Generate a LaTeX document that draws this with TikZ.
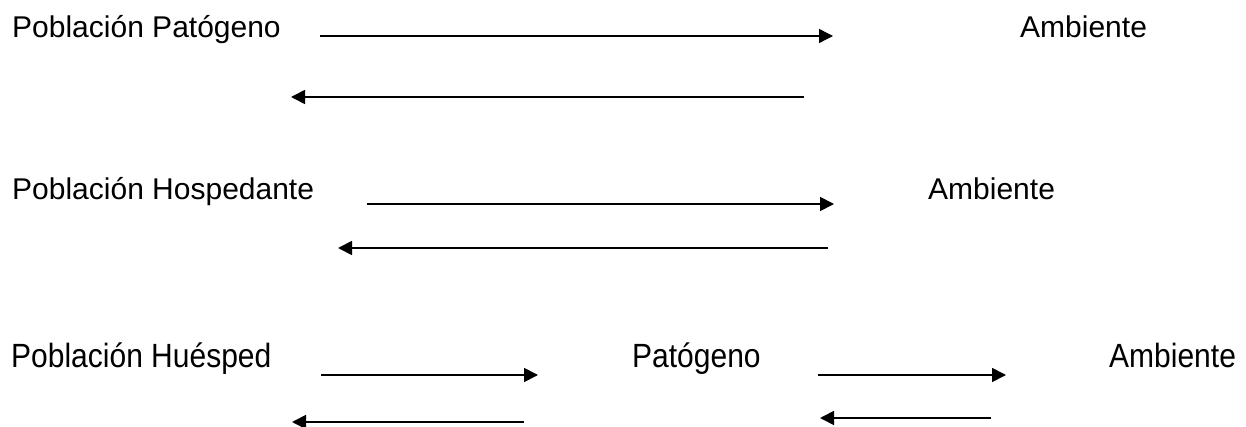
\documentclass[tikz,border=0pt]{standalone}
\usepackage{fontspec}
\setmainfont{Liberation Sans}
\usetikzlibrary{arrows.meta}
\begin{document}
\begin{tikzpicture}[x=1pt,y=-1pt,
  lbl/.style={anchor=base west,inner sep=0pt,font=\fontsize{30}{36}\selectfont},
  lbltall/.style={lbl,yscale=1.12},
  flow/.style={line width=1.7pt,-{Triangle[length=14pt,width=14pt]}}]
\useasboundingbox (0,0) rectangle (1246,427);
% row 1
\node[lbl] (pp) at (12,38) {Población Patógeno};
\node[lbl] (a1) at (1020,38) {Ambiente};
\coordinate (r1s) at (320,36);
\coordinate (r1e) at (833,36);
\coordinate (l1s) at (804,97);
\coordinate (l1e) at (291,97);
\draw[flow,line width=1.4pt] (r1s) -- (r1e);
\draw[flow] (l1s) -- (l1e);
% row 2
\node[lbl] (ph) at (12,200) {Población Hospedante};
\node[lbl] (a2) at (928,200) {Ambiente};
\coordinate (r2s) at (367,204);
\coordinate (r2e) at (834,204);
\coordinate (l2s) at (828,248);
\coordinate (l2e) at (338,248);
\draw[flow] (r2s) -- (r2e);
\draw[flow] (l2s) -- (l2e);
% row 3
\node[lbltall] (phu) at (11,367) {Población Huésped};
\node[lbltall] (pat) at (632,367) {Patógeno};
\node[lbltall] (a3) at (1109,367) {Ambiente};
\coordinate (r3s) at (321,375);
\coordinate (r3e) at (538,375);
\coordinate (l3s) at (524,422);
\coordinate (l3e) at (292,422);
\coordinate (r4s) at (818,375);
\coordinate (r4e) at (1006,375);
\coordinate (l4s) at (991,418);
\coordinate (l4e) at (820,418);
\draw[flow] (r3s) -- (r3e);
\draw[flow] (l3s) -- (l3e);
\draw[flow] (r4s) -- (r4e);
\draw[flow] (l4s) -- (l4e);
\end{tikzpicture}
\end{document}
